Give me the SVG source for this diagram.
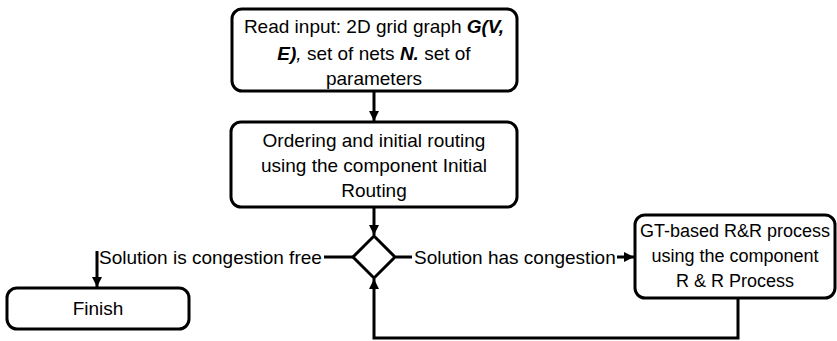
<svg xmlns="http://www.w3.org/2000/svg" width="837" height="341" viewBox="0 0 837 341">
  <style>
    .box { fill: #fff; stroke: #000; stroke-width: 3; }
    .line { fill: none; stroke: #000; stroke-width: 3; }
    text { font-family: "Liberation Sans", Arial, sans-serif; font-size: 19px; fill: #000; }
    .c { text-anchor: middle; }
    .bi { font-weight: bold; font-style: italic; }
    .s { font-size: 18px; }
  </style>
  <defs>
    <marker id="arrow" viewBox="0 0 10 10" refX="10" refY="5" markerWidth="10" markerHeight="10" markerUnits="userSpaceOnUse" orient="auto">
      <path d="M0,0 L10,5 L0,10 Z" fill="#000"/>
    </marker>
  </defs>

  <g id="connectors">
    <path class="line" d="M374,92 V121" marker-end="url(#arrow)"/>
    <path class="line" d="M374,208 V235" marker-end="url(#arrow)"/>
    <path class="line" d="M353,257 H324"/>
    <path class="line" d="M97,251 V287" marker-end="url(#arrow)"/>
    <path class="line" d="M396,257 H412"/>
    <path class="line" d="M617,257 H634" marker-end="url(#arrow)"/>
    <path class="line" d="M738,298 V338 H374 V279" marker-end="url(#arrow)"/>
    <text x="99" y="264">Solution is congestion free</text>
    <text x="414" y="264">Solution has congestion</text>
  </g>

  <g id="read-input">
    <rect class="box" x="232" y="9" width="285" height="82" rx="10"/>
    <text class="c" x="374" y="33">Read input: 2D grid graph <tspan class="bi">G(V,</tspan></text>
    <text class="c" x="374" y="60"><tspan class="bi">E)</tspan><tspan font-style="italic">,</tspan> set of nets <tspan class="bi">N.</tspan> set of</text>
    <text class="c" x="374" y="85">parameters</text>
  </g>

  <g id="initial-routing">
    <rect class="box" x="231" y="122" width="286" height="85" rx="10"/>
    <text class="c" x="374" y="147">Ordering and initial routing</text>
    <text class="c" x="374" y="172">using the component Initial</text>
    <text class="c" x="374" y="197">Routing</text>
  </g>

  <g id="decision">
    <path class="box" d="M374,236 L395,257 L374,278 L353,257 Z"/>
  </g>

  <g id="finish">
    <rect class="box" x="7" y="288" width="182" height="41" rx="10"/>
    <text class="c" x="98" y="315">Finish</text>
  </g>

  <g id="rr-process">
    <rect class="box" x="635" y="215" width="200" height="83" rx="10"/>
    <text class="c s" x="735" y="237">GT-based R&amp;R process</text>
    <text class="c s" x="735" y="262">using the component</text>
    <text class="c s" x="735" y="287">R &amp; R Process</text>
  </g>
</svg>
